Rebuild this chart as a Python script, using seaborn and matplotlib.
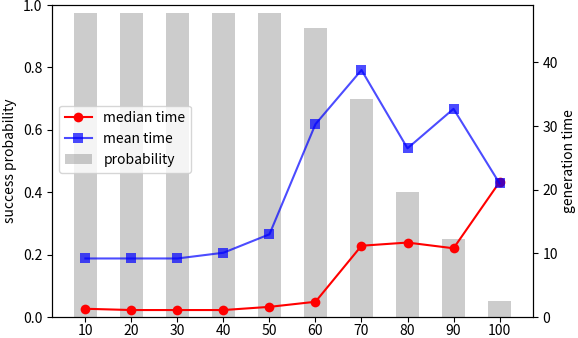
import matplotlib
matplotlib.use("Agg")
import matplotlib.pyplot as plt
import seaborn as sns
import pandas as pd

# datos
sizes = [10, 20, 30, 40, 50, 60, 70, 80, 90, 100]
probability = [0.975, 0.975, 0.975, 0.975, 0.975, 0.925, 0.70, 0.40, 0.25, 0.05]
median_time = [1.3, 1.1, 1.1, 1.1, 1.6, 2.4, 11.2, 11.7, 10.8, 21.2]
mean_time = [9.2, 9.2, 9.2, 10.1, 13.0, 30.3, 38.8, 26.5, 32.7, 21.0]

df = pd.DataFrame({"size": sizes, "probability": probability,
                   "median": median_time, "mean": mean_time})

plt.rcParams["font.family"] = ["Noto Sans CJK JP", "DejaVu Sans"]
plt.rcParams["font.size"] = 10

fig = plt.figure(figsize=(5.78, 3.38), dpi=100)
ax1 = fig.add_axes([0.09, 0.062, 0.832, 0.923])

# barras de probabilidad (eje izquierdo)
sns.barplot(data=df, x="size", y="probability", native_scale=True, width=0.5,
            color="gray", alpha=0.4, saturation=1, linewidth=0,
            label="probability", ax=ax1)
ax1.set_ylim(0, 1.0)
ax1.set_xlim(2.75, 107.25)
ax1.set_xticks(sizes)
ax1.set_xticklabels([str(s) for s in sizes])
ax1.tick_params(axis="x", pad=1.5)
ax1.set_xlabel("")
ax1.set_ylabel("success probability")
if ax1.get_legend() is not None:
    ax1.get_legend().remove()

# tiempos de generación (eje derecho)
ax2 = ax1.twinx()
sns.lineplot(data=df, x="size", y="median", color="red", marker="o",
             markersize=7, markeredgewidth=0, linewidth=1.5,
             label="median time", ax=ax2)
sns.lineplot(data=df, x="size", y="mean", color="blue", alpha=0.7, marker="s",
             markersize=7, markeredgewidth=0, linewidth=1.5,
             label="mean time", ax=ax2)
ax2.set_ylim(0, 49)
ax2.set_yticks([0, 10, 20, 30, 40])
ax2.set_ylabel("generation time", labelpad=3)

h1, l1 = ax1.get_legend_handles_labels()
h2, l2 = ax2.get_legend_handles_labels()
ax2.legend(h2 + h1, l2 + l1, loc="upper left", bbox_to_anchor=(0.0, 0.70))

fig.savefig("out.png", dpi=100)
